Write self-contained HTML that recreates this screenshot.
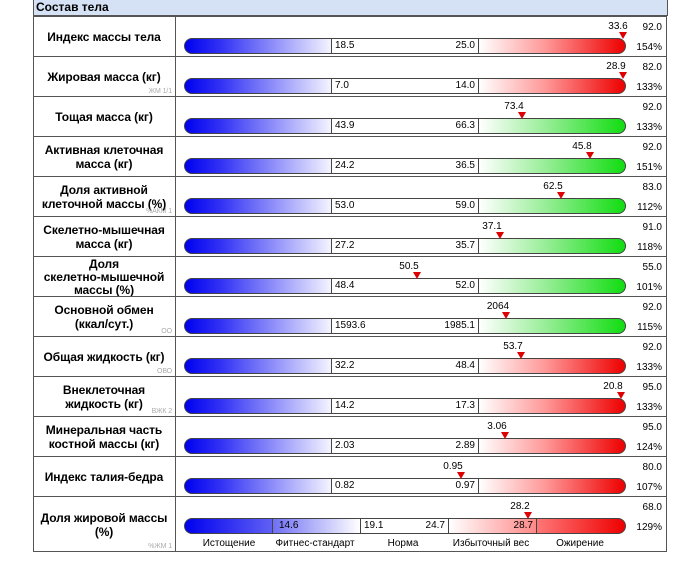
<!DOCTYPE html>
<html><head><meta charset="utf-8"><style>
body{margin:0;width:700px;height:563px;background:#fff;font-family:"Liberation Sans","DejaVu Sans",sans-serif;position:relative;overflow:hidden}
.box{position:absolute;left:33px;top:0;width:632px;height:551px;border:1px solid #555;border-top:none}
.hd{position:absolute;left:33px;top:0;width:631px;height:15px;background:#d5e2f5;border:1px solid #555;border-top:none;font-weight:bold;font-size:12px;line-height:15px;padding-left:2px}
.row{position:absolute;left:33px;width:633px;height:40px;border-top:1px solid #555}
.lab{position:absolute;left:0;width:142px;height:100%;border-right:1px solid #555;display:flex;align-items:center;justify-content:center;text-align:center;font-weight:bold;font-size:12px;line-height:14px;letter-spacing:-0.1px}
.sub{position:absolute;right:3px;bottom:1px;font-size:7px;color:#aaa;font-weight:normal;line-height:8px}
.bar{position:absolute;left:151px;top:21px;width:442px;height:16px}
.s{position:absolute;top:0;height:14px;border:1px solid #444;box-sizing:content-box;font-size:10px;line-height:14px}
.b{left:0;width:146px;border-radius:8px 0 0 8px;background:linear-gradient(90deg,#0000ee,#3333f5 25%,#f4f4ff)}
.m{left:147px;width:146px;background:#fff;border-left:1px solid #444}
.r{left:294px;width:146px;border-radius:0 8px 8px 0;background:linear-gradient(90deg,#fff,#ff9999 45%,#ee0000)}
.g{left:294px;width:146px;border-radius:0 8px 8px 0;background:linear-gradient(90deg,#fff,#99ee99 45%,#11dd11)}
.m span{position:absolute;top:0}
.v{position:absolute;top:4px;font-size:10px;transform:translateX(-50%)}
.t{position:absolute;top:15px;width:0;height:0;border-left:4px solid transparent;border-right:4px solid transparent;border-top:7px solid #dd0000;transform:translateX(-4px)}
.n1,.n2{position:absolute;right:4px;font-size:10px}
.n1{top:5px}.n2{top:25px}
.lg{position:absolute;top:41px;font-size:10px;transform:translateX(-50%)}
</style></head><body>
<div class="box"></div>
<div class="hd">Состав тела</div>

<div class="row" style="top:16px"><div class="lab">Индекс массы тела</div>
<div class="bar"><div class="s b"></div><div class="s m"><span style="left:3px">18.5</span><span style="right:3px">25.0</span></div><div class="s r"></div></div>
<div class="v" style="left:585px">33.6</div><div class="t" style="left:590px"></div><div class="n1">92.0</div><div class="n2">154%</div></div>

<div class="row" style="top:56px"><div class="lab">Жировая масса (кг)<span class="sub">ЖМ 1/1</span></div>
<div class="bar"><div class="s b"></div><div class="s m"><span style="left:3px">7.0</span><span style="right:3px">14.0</span></div><div class="s r"></div></div>
<div class="v" style="left:583px">28.9</div><div class="t" style="left:590px"></div><div class="n1">82.0</div><div class="n2">133%</div></div>

<div class="row" style="top:96px"><div class="lab">Тощая масса (кг)</div>
<div class="bar"><div class="s b"></div><div class="s m"><span style="left:3px">43.9</span><span style="right:3px">66.3</span></div><div class="s g"></div></div>
<div class="v" style="left:481px">73.4</div><div class="t" style="left:489px"></div><div class="n1">92.0</div><div class="n2">133%</div></div>

<div class="row" style="top:136px"><div class="lab">Активная клеточная<br>масса (кг)</div>
<div class="bar"><div class="s b"></div><div class="s m"><span style="left:3px">24.2</span><span style="right:3px">36.5</span></div><div class="s g"></div></div>
<div class="v" style="left:549px">45.8</div><div class="t" style="left:557px"></div><div class="n1">92.0</div><div class="n2">151%</div></div>

<div class="row" style="top:176px"><div class="lab">Доля активной<br>клеточной массы (%)<span class="sub">%АКМ 1</span></div>
<div class="bar"><div class="s b"></div><div class="s m"><span style="left:3px">53.0</span><span style="right:3px">59.0</span></div><div class="s g"></div></div>
<div class="v" style="left:520px">62.5</div><div class="t" style="left:528px"></div><div class="n1">83.0</div><div class="n2">112%</div></div>

<div class="row" style="top:216px"><div class="lab">Скелетно-мышечная<br>масса (кг)</div>
<div class="bar"><div class="s b"></div><div class="s m"><span style="left:3px">27.2</span><span style="right:3px">35.7</span></div><div class="s g"></div></div>
<div class="v" style="left:459px">37.1</div><div class="t" style="left:467px"></div><div class="n1">91.0</div><div class="n2">118%</div></div>

<div class="row" style="top:256px"><div class="lab" style="line-height:13px">Доля<br>скелетно-мышечной<br>массы (%)</div>
<div class="bar"><div class="s b"></div><div class="s m"><span style="left:3px">48.4</span><span style="right:3px">52.0</span></div><div class="s g"></div></div>
<div class="v" style="left:376px">50.5</div><div class="t" style="left:384px"></div><div class="n1">55.0</div><div class="n2">101%</div></div>

<div class="row" style="top:296px"><div class="lab">Основной обмен<br>(ккал/сут.)<span class="sub">ОО</span></div>
<div class="bar"><div class="s b"></div><div class="s m"><span style="left:3px">1593.6</span><span style="right:3px">1985.1</span></div><div class="s g"></div></div>
<div class="v" style="left:465px">2064</div><div class="t" style="left:473px"></div><div class="n1">92.0</div><div class="n2">115%</div></div>

<div class="row" style="top:336px"><div class="lab">Общая жидкость (кг)<span class="sub">ОВО</span></div>
<div class="bar"><div class="s b"></div><div class="s m"><span style="left:3px">32.2</span><span style="right:3px">48.4</span></div><div class="s r"></div></div>
<div class="v" style="left:480px">53.7</div><div class="t" style="left:488px"></div><div class="n1">92.0</div><div class="n2">133%</div></div>

<div class="row" style="top:376px"><div class="lab">Внеклеточная<br>жидкость (кг)<span class="sub">ВЖК 2</span></div>
<div class="bar"><div class="s b"></div><div class="s m"><span style="left:3px">14.2</span><span style="right:3px">17.3</span></div><div class="s r"></div></div>
<div class="v" style="left:580px">20.8</div><div class="t" style="left:588px"></div><div class="n1">95.0</div><div class="n2">133%</div></div>

<div class="row" style="top:416px"><div class="lab">Минеральная часть<br>костной массы (кг)</div>
<div class="bar"><div class="s b"></div><div class="s m"><span style="left:3px">2.03</span><span style="right:3px">2.89</span></div><div class="s r"></div></div>
<div class="v" style="left:464px">3.06</div><div class="t" style="left:472px"></div><div class="n1">95.0</div><div class="n2">124%</div></div>

<div class="row" style="top:456px"><div class="lab">Индекс талия-бедра</div>
<div class="bar"><div class="s b"></div><div class="s m"><span style="left:3px">0.82</span><span style="right:3px">0.97</span></div><div class="s r"></div></div>
<div class="v" style="left:420px">0.95</div><div class="t" style="left:428px"></div><div class="n1">80.0</div><div class="n2">107%</div></div>

<div class="row" style="top:496px;height:55px"><div class="lab">Доля жировой массы<br>(%)<span class="sub">%ЖМ 1</span></div>
<div class="bar">
<div class="s" style="left:0;width:87px;border-radius:8px 0 0 8px;background:linear-gradient(90deg,#0000ee,#6060f5)"></div>
<div class="s" style="left:88px;width:87px;background:linear-gradient(90deg,#7070f5,#fff)"><span style="position:absolute;left:6px">14.6</span></div>
<div class="s" style="left:176px;width:87px;background:#fff"><span style="position:absolute;left:3px">19.1</span><span style="position:absolute;right:3px">24.7</span></div>
<div class="s" style="left:264px;width:87px;background:linear-gradient(90deg,#fff,#ff8888)"><span style="position:absolute;right:3px">28.7</span></div>
<div class="s" style="left:352px;width:88px;border-radius:0 8px 8px 0;background:linear-gradient(90deg,#ff7777,#ee0000)"></div>
</div>
<div class="v" style="left:487px">28.2</div><div class="t" style="left:495px"></div><div class="n1">68.0</div><div class="n2">129%</div>
<div class="lg" style="left:196px">Истощение</div><div class="lg" style="left:282px">Фитнес-стандарт</div><div class="lg" style="left:370px">Норма</div><div class="lg" style="left:458px">Избыточный вес</div><div class="lg" style="left:547px">Ожирение</div>
</div>
</body></html>
